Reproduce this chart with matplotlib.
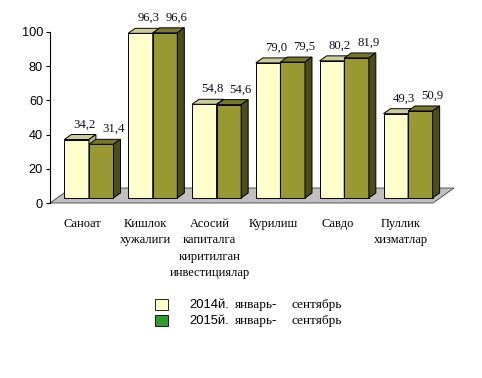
import numpy as np
import matplotlib
matplotlib.use("Agg")
import matplotlib.pyplot as plt
from matplotlib.patches import Rectangle

# ---- data ----
categories = ["Саноат", "Кишлок\nхужалиги", "Асосий\nкапиталга\nкиритилган\nинвестициялар",
              "Курилиш", "Савдо", "Пуллик\nхизматлар"]
vals_2014 = [34.2, 96.3, 54.8, 79.0, 80.2, 49.3]
vals_2015 = [31.4, 96.6, 54.6, 79.5, 81.9, 50.9]
labels_2014 = ["34,2", "96,3", "54,8", "79,0", "80,2", "49,3"]
labels_2015 = ["31,4", "96,6", "54,6", "79,5", "81,9", "50,9"]
series_names = ["2014й.", "2015й."]
period = ("январь-", "сентябрь")

# ---- colours ----
LIGHT = ("#FFFFCC", "#CCCC99", "#B3B380")   # front, top, side
DARK = ("#999933", "#77772B", "#4D4D1A")
LEGEND_COLORS = ["#FFFFCC", "#339933"]
FLOOR = "#C0C0C0"

W, H, DPI = 482, 378, 100
fig = plt.figure(figsize=(W / DPI, H / DPI), dpi=DPI)
fig.patch.set_facecolor("white")

# axes in pixel geometry
ax_l, ax_r, ax_top, ax_bot = 50, 433, 32, 203
ax = fig.add_axes([ax_l / W, (H - ax_bot) / H, (ax_r - ax_l) / W, (ax_bot - ax_top) / H])
n = len(categories)
ax.set_xlim(0, n)
ax.set_ylim(0, 100)

px_x = (ax_r - ax_l) / n          # pixels per category
px_y = (ax_bot - ax_top) / 100.0  # pixels per unit
dx = 7 / px_x                     # depth offset in data units
dy = 5 / px_y

# floor
ax.fill([0, n, n + 3 * dx, 3 * dx], [0, 0, 3 * dy, 3 * dy], facecolor=FLOOR,
        edgecolor="#404040", linewidth=0.6, clip_on=False, zorder=1)

gap = 0.115
bw = (1 - 2 * gap) / 2
x = np.arange(n)


def draw_bars(xs, vals, cols, labels, lab_dx):
    bars = ax.bar(xs + dx, vals, width=bw, bottom=dy, align="edge", color=cols[0],
                  edgecolor="black", linewidth=0.7, zorder=3, clip_on=False)
    for b, v, lab in zip(bars, vals, labels):
        x0 = b.get_x()
        x1 = x0 + b.get_width()
        y1 = dy + v
        ax.fill([x0, x1, x1 + dx, x0 + dx], [y1, y1, y1 + dy, y1 + dy], facecolor=cols[1],
                edgecolor="black", linewidth=0.7, zorder=3, clip_on=False)
        ax.fill([x1, x1 + dx, x1 + dx, x1], [dy, 2 * dy, y1 + dy, y1], facecolor=cols[2],
                edgecolor="black", linewidth=0.7, zorder=3, clip_on=False)
        ax.annotate(lab, ((x0 + x1) / 2 + dx, y1 + dy), xytext=(lab_dx, 3), textcoords="offset points",
                    ha="center", va="bottom", fontsize=9.2, family="Liberation Serif",
                    color="#101020", annotation_clip=False)


for i in range(n):
    draw_bars(x[i:i + 1] + gap, vals_2014[i:i + 1], LIGHT, labels_2014[i:i + 1], 0.5)
    draw_bars(x[i:i + 1] + gap + bw, vals_2015[i:i + 1], DARK, labels_2015[i:i + 1], 3.5)

# axis styling
for s in ["top", "right", "bottom"]:
    ax.spines[s].set_visible(False)
ax.spines["left"].set_linewidth(0.8)
ax.set_yticks(np.arange(0, 101, 20))
ax.tick_params(axis="y", length=3, width=0.8, pad=2, labelsize=9.2)
for t in ax.get_yticklabels():
    t.set_family("Liberation Sans")
ax.set_xticks([])
ax.patch.set_visible(False)

# category labels
for i, c in enumerate(categories):
    ax.text(i + 0.5, -8.5, c, ha="center", va="top", multialignment="center",
            fontsize=9.0, family="Liberation Serif", linespacing=1.5)

# legend (manual)
rows_y = [305, 321]
for yy, col, name in zip(rows_y, LEGEND_COLORS, series_names):
    fig.patches.append(Rectangle((155 / W, (H - yy - 5) / H), 13 / W, 11 / H, facecolor=col,
                                 edgecolor="black", linewidth=0.6, transform=fig.transFigure))
    fig.text(189 / W, (H - yy) / H, name, ha="left", va="center", fontsize=9.4,
             family="Liberation Sans")
    fig.text(235 / W, (H - yy) / H, period[0], ha="left", va="center", fontsize=9.6,
             family="Liberation Serif")
    fig.text(292 / W, (H - yy) / H, period[1], ha="left", va="center", fontsize=9.6,
             family="Liberation Serif")

fig.savefig("out.png", dpi=DPI)
